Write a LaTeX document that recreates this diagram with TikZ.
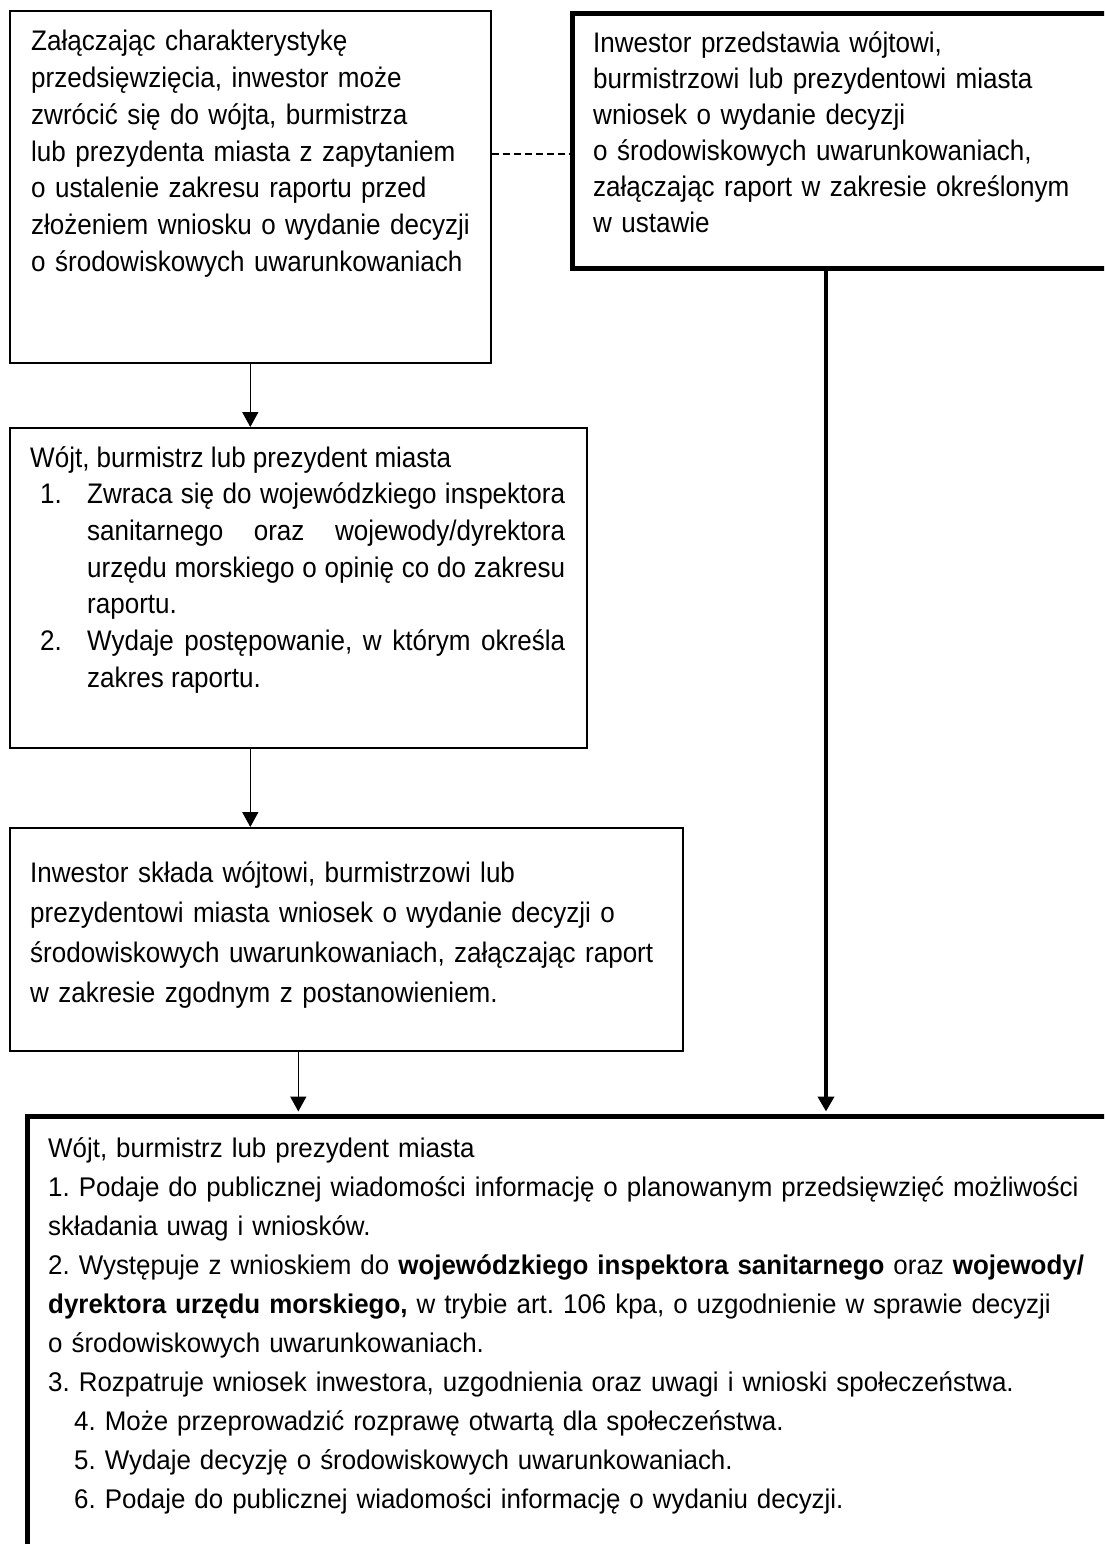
\documentclass[tikz,border=0pt]{standalone}
\usepackage{fontspec}
\setmainfont{Liberation Sans}
\newfontfamily\tallfont{Liberation Sans}[FakeStretch=0.92]
\newfontfamily\midfont{Liberation Sans}[FakeStretch=0.96]
\usetikzlibrary{arrows.meta}
\tikzset{
  thinbox/.style={draw=black, line width=1.6pt, inner sep=0pt, anchor=north west},
  thickbox/.style={draw=black, line width=5pt, inner sep=0pt, anchor=north west},
  txt/.style={inner sep=0pt, anchor=base west, align=left, font=\tallfont\fontsize{28.3}{36.7}\selectfont},
  txtwide/.style={inner sep=0pt, anchor=base west, align=left, font=\midfont\fontsize{27}{39}\selectfont},
  flow/.style={line width=1.6pt, -{Triangle[length=15pt,width=16pt]}},
  thickflow/.style={line width=4.5pt, -{Triangle[length=15pt,width=16pt]}},
  link/.style={line width=1.2pt, dash pattern=on 7pt off 4pt},
}
\begin{document}
\begin{tikzpicture}[x=1pt,y=-1pt]
\useasboundingbox (0,0) rectangle (1104,1544);
\clip (0,0) rectangle (1104,1544);
\hyphenpenalty=10000 \exhyphenpenalty=10000 \frenchspacing
% boxes
\node[thinbox, minimum width=481pt, minimum height=351.5pt] (b1) at (9,10.5) {};
\node[thickbox, minimum width=560pt, minimum height=255pt] (b2) at (570,11) {};
\node[thinbox, minimum width=577pt, minimum height=320pt] (bm) at (9,427) {};
\node[thinbox, minimum width=673pt, minimum height=223pt] (b3) at (9,827) {};
\node[thickbox, minimum width=1105pt, minimum height=460pt] (b5) at (25,1114) {};
% texts
\node[txt, text width=455pt] (t1) at (31,51) {\frenchspacing Załączając charakterystykę\\
przedsięwzięcia, inwestor może\\
zwrócić się do wójta, burmistrza\\
lub prezydenta miasta z zapytaniem\\
o ustalenie zakresu raportu przed\\
złożeniem wniosku o wydanie decyzji\\
o środowiskowych uwarunkowaniach};
\node[txt, text width=500pt, font=\tallfont\fontsize{28.3}{36}\selectfont] (t2) at (593,53) {Inwestor przedstawia wójtowi,\\
burmistrzowi lub prezydentowi miasta\\
wniosek o wydanie decyzji\\
o środowiskowych uwarunkowaniach,\\
załączając raport w zakresie określonym\\
w ustawie};
\node[txt, text width=535pt, align=justify] (tm) at (30,467) {\frenchspacing Wójt, burmistrz lub prezydent miasta\par
\leftskip=57pt
\hspace*{-47pt}\makebox[47pt][l]{1.}Zwraca się do wojewódzkiego inspektora\linebreak
sanitarnego oraz wojewody/dyrektora\linebreak
urzędu morskiego o opinię co do zakresu\linebreak
raportu.\par
\hspace*{-47pt}\makebox[47pt][l]{2.}Wydaje postępowanie, w którym określa\linebreak
zakres raportu.\par};
\node[txt, text width=640pt, font=\tallfont\fontsize{28.3}{40}\selectfont] (t3) at (30,882) {Inwestor składa wójtowi, burmistrzowi lub\\
prezydentowi miasta wniosek o wydanie decyzji o\\
środowiskowych uwarunkowaniach, załączając raport\\
w zakresie zgodnym z postanowieniem.};
\node[txtwide, text width=1050pt] (t5) at (48,1157) {\frenchspacing Wójt, burmistrz lub prezydent miasta\\
1. Podaje do publicznej wiadomości informację o planowanym przedsięwzięć możliwości\\
składania uwag i wniosków.\\
2. Występuje z wnioskiem do \textbf{wojewódzkiego inspektora sanitarnego} oraz \textbf{wojewody/}\\
\textbf{dyrektora urzędu morskiego,} w trybie art. 106 kpa, o uzgodnienie w sprawie decyzji\\
o środowiskowych uwarunkowaniach.\\
3. Rozpatruje wniosek inwestora, uzgodnienia oraz uwagi i wnioski społeczeństwa.\\
\hspace*{26pt}4. Może przeprowadzić rozprawę otwartą dla społeczeństwa.\\
\hspace*{26pt}5. Wydaje decyzję o środowiskowych uwarunkowaniach.\\
\hspace*{26pt}6. Podaje do publicznej wiadomości informację o wydaniu decyzji.};
% connectors
\draw[link] ([yshift=-143.5pt]b1.north east) -- ([yshift=-143pt]b2.north west);
\draw[flow] (b1.south) -- (b1.south |- bm.north);
\draw[flow] (b1.south |- bm.south) -- (b1.south |- b3.north);
\draw[flow, shorten >=2.5pt] (bm.south |- b3.south) -- (bm.south |- b5.north);
\coordinate (c2) at ([xshift=256pt]b2.south west);
\draw[thickflow, shorten >=2.5pt] (c2) -- (c2 |- b5.north);
\end{tikzpicture}
\end{document}
